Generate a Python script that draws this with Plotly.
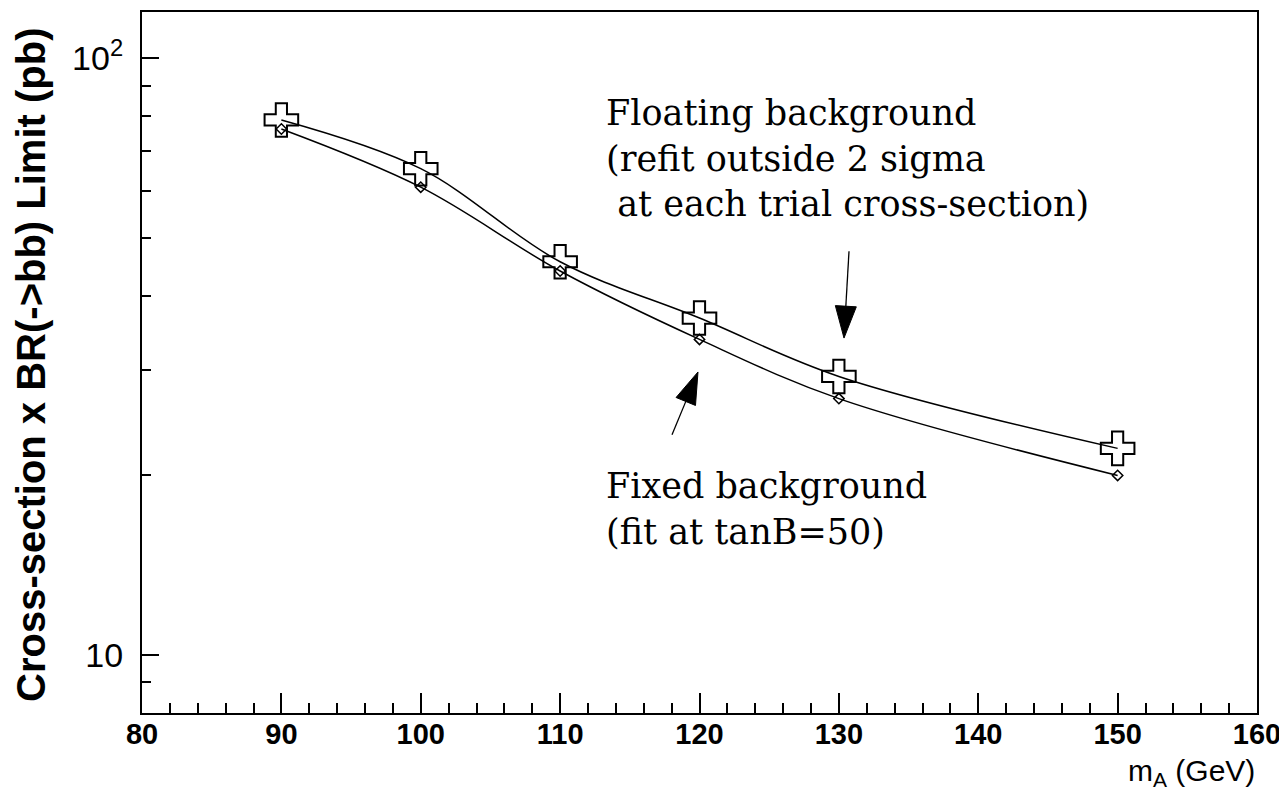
import math
import plotly.graph_objects as go

# ---------------- data ----------------
mass_gev = [90, 100, 110, 120, 130, 150]
floating_bkg_limit = [78.8, 65.3, 45.6, 36.7, 29.3, 22.2]
fixed_bkg_limit = [76.1, 60.8, 44.0, 33.8, 26.9, 20.0]

x_tick_vals = [80, 90, 100, 110, 120, 130, 140, 150, 160]
y_tick_vals = [10, 100]
y_tick_text = ["10", "10<sup>2</sup>"]
y_minor_vals = [9, 20, 30, 40, 50, 60, 70, 80, 90]

floating_label = "Floating background<br>(refit outside 2 sigma<br>\u00a0at each trial cross-section)"
fixed_label = "Fixed background<br>(fit at tanB=50)"
y_title = "<b>Cross-section x BR(->bb) Limit (pb)</b>"
x_title = "m<sub>A</sub> (GeV)"

# ---------------- layout geometry ----------------
# page body has an 8 px margin; screen coords = figure coords + 8
OFF = 8
W, H = 1287 - OFF, 791 - OFF
ML, MR, MT, MB = 142 - OFF, 30, 10 - OFF, 78
PW, PH = W - ML - MR, H - MT - MB


def px(xs):
    """screen x pixel -> paper fraction"""
    return (xs - OFF - ML) / PW


def py(ys):
    """screen y pixel -> paper fraction"""
    return (H - MB - (ys - OFF)) / PH


fig = go.Figure()

fig.add_trace(go.Scatter(
    x=mass_gev, y=fixed_bkg_limit, mode="lines+markers",
    line=dict(color="black", width=1.5, shape="spline", smoothing=1.0),
    marker=dict(symbol="diamond-open", size=8, color="black", line=dict(width=1.5, color="black")),
    showlegend=False, name="Fixed background"))

fig.add_trace(go.Scatter(
    x=mass_gev, y=floating_bkg_limit, mode="lines+markers",
    line=dict(color="black", width=1.5, shape="spline", smoothing=1.0),
    marker=dict(symbol="cross-open", size=28, color="black", line=dict(width=2, color="black")),
    showlegend=False, name="Floating background"))

sans = "Liberation Sans, Arial, sans-serif"
serif = "DejaVu Serif, serif"

fig.update_layout(
    width=W, height=H,
    margin=dict(l=ML, r=MR, t=MT, b=MB),
    paper_bgcolor="white", plot_bgcolor="white",
    xaxis=dict(
        range=[80, 160], tickvals=x_tick_vals,
        ticks="inside", ticklen=20, tickwidth=1.5, tickcolor="black",
        minor=dict(dtick=2, tick0=80, ticks="inside", ticklen=10, tickwidth=1.5, tickcolor="black"),
        showline=True, linecolor="black", linewidth=2, mirror=True,
        showgrid=False, zeroline=False,
        tickfont=dict(family=sans, size=29, color="black", weight="bold"),
        ticklabelstandoff=-6,
    ),
    yaxis=dict(
        type="log", range=[math.log10(8), math.log10(119.5)],
        tickvals=y_tick_vals, ticktext=y_tick_text,
        ticks="inside", ticklen=17, tickwidth=1.5, tickcolor="black",
        minor=dict(tickvals=y_minor_vals, ticks="inside", ticklen=9, tickwidth=1.5, tickcolor="black"),
        showline=True, linecolor="black", linewidth=2, mirror=True,
        showgrid=False, zeroline=False,
        tickfont=dict(family=sans, size=34, color="black"),
        ticklabelstandoff=10,
    ),
    font=dict(family=sans, color="black"),
)

fig.add_annotation(text=y_title, xref="paper", yref="paper", x=px(31), y=py(364),
                   xanchor="center", yanchor="middle", textangle=-90, showarrow=False,
                   font=dict(family=sans, size=40, color="black"))
fig.add_annotation(text=x_title, xref="paper", yref="paper", x=px(1257), y=py(773),
                   xanchor="right", yanchor="middle", showarrow=False,
                   font=dict(family=sans, size=30, color="black"))
fig.add_annotation(text=floating_label, xref="paper", yref="paper", x=px(604), y=py(157),
                   xanchor="left", yanchor="middle", align="left", showarrow=False,
                   font=dict(family=serif, size=35, color="black"))
fig.add_annotation(text=fixed_label, xref="paper", yref="paper", x=px(604), y=py(508),
                   xanchor="left", yanchor="middle", align="left", showarrow=False,
                   font=dict(family=serif, size=35, color="black"))

# arrows (screen pixel geometry converted to paper coordinates)
arrows = [
    ((849, 250), (844, 337)),
    ((672, 434), (698, 371)),
]
head_len, head_half = 32, 10.5
for (x0, y0), (x1, y1) in arrows:
    dx, dy = x1 - x0, y1 - y0
    L = math.hypot(dx, dy)
    ux, uy = dx / L, dy / L
    bx, by = x1 - ux * head_len, y1 - uy * head_len
    fig.add_shape(type="line", xref="paper", yref="paper",
                  x0=px(x0), y0=py(y0), x1=px(bx + ux * 2), y1=py(by + uy * 2),
                  line=dict(color="black", width=1.3))
    p1 = (bx - uy * head_half, by + ux * head_half)
    p2 = (bx + uy * head_half, by - ux * head_half)
    path = "M {:.5f},{:.5f} L {:.5f},{:.5f} L {:.5f},{:.5f} Z".format(
        px(x1), py(y1), px(p1[0]), py(p1[1]), px(p2[0]), py(p2[1]))
    fig.add_shape(type="path", xref="paper", yref="paper", path=path,
                  fillcolor="black", line=dict(color="black", width=1))

fig.write_html("out.html")
